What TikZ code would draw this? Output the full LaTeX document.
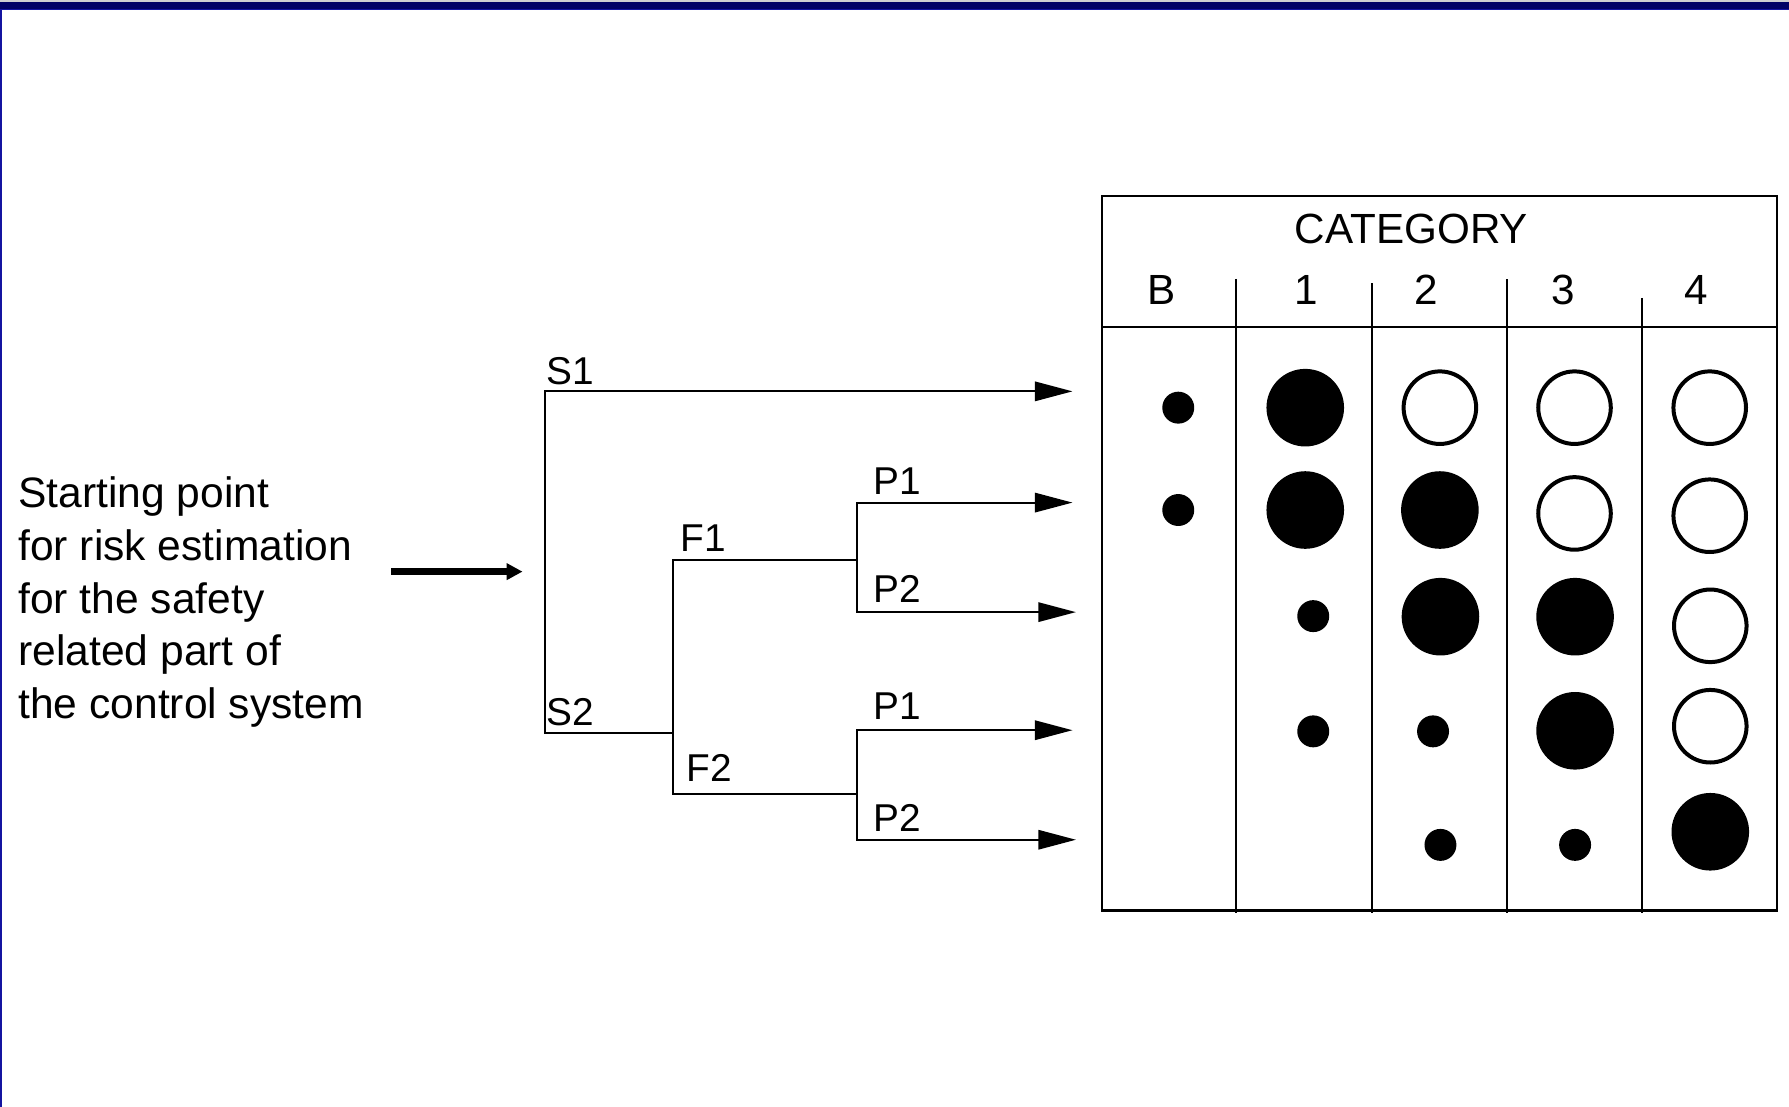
\documentclass[tikz,border=0pt]{standalone}
\usepackage{fontspec}
\setmainfont{Liberation Sans}
\usetikzlibrary{arrows.meta}

\definecolor{framenavy}{RGB}{0,0,102}
\definecolor{frameblue}{RGB}{20,20,160}
\definecolor{framegray}{RGB}{205,205,210}

\tikzset{
  branch/.style={line width=1.8pt, line cap=rect},
  toarrow/.style={branch, -{Triangle[length=33pt,width=17pt]}},
  startarrow/.style={line width=5.5pt, -{Triangle[length=14pt,width=14pt]}},
  lefttext/.style={anchor=base west, inner sep=0pt, font=\fontsize{37.3}{44}\selectfont},
  branchlabel/.style={anchor=base west, inner sep=0pt, font=\fontsize{34}{40}\selectfont},
  headlabel/.style={anchor=base, inner sep=0pt, font=\fontsize{37}{44}\selectfont},
  gridline/.style={line width=2pt},
  bigdot/.style={circle, fill=black, inner sep=0pt, minimum size=68pt},
  opendot/.style={circle, draw=black, line width=3.5pt, fill=white, inner sep=0pt, minimum size=63.6pt},
  smalldot/.style={circle, fill=black, inner sep=0pt, minimum size=28pt},
}

\begin{document}
\begin{tikzpicture}[x=1pt, y=-1pt]
  \useasboundingbox (0,0) rectangle (1568,970);
  \fill[white] (0,0) rectangle (1568,970);

  % slide frame: header band and left edge
  \fill[framegray] (0,0) rectangle (1568,1.6);
  \fill[framenavy] (0,1.6) rectangle (1568,7.9);
  \draw[frameblue, line width=0.8pt] (0,7.9) -- (1568,7.9);
  \fill[frameblue] (0,7.9) rectangle (1.6,970);

  % starting point text
  \node[lefttext] (t1) at (16,445)   {Starting point};
  \node[lefttext] (t2) at (16,491.2) {for risk estimation};
  \node[lefttext] (t3) at (16,537.4) {for the safety};
  \node[lefttext] (t4) at (16,583.6) {related part of};
  \node[lefttext] (t5) at (16,629.8) {the control system};

  % risk graph junctions
  \coordinate (in)   at (343,501);
  \coordinate (sMid) at (458,501);
  \coordinate (s1)   at (478,343);
  \coordinate (s2)   at (478,642.5);
  \coordinate (fJ)   at (589.5,642.5);
  \coordinate (f1)   at (589.5,491);
  \coordinate (f2)   at (589.5,695.5);
  \coordinate (pA)   at (751.5,491);
  \coordinate (pA1)  at (751.5,440.5);
  \coordinate (pA2)  at (751.5,536.5);
  \coordinate (pB)   at (751.5,695.5);
  \coordinate (pB1)  at (751.5,640);
  \coordinate (pB2)  at (751.5,736);

  % arrow tips pointing into the table rows
  \coordinate (r1) at (940,343);
  \coordinate (r2) at (940,440.5);
  \coordinate (r3) at (943,536.5);
  \coordinate (r4) at (940,640);
  \coordinate (r5) at (943,736);

  \draw[startarrow] (in) -- (sMid);

  \draw[branch] (s1) -- (s2) -- (fJ);
  \draw[toarrow] (s1) -- (r1);
  \draw[branch] (f1) -- (f2);
  \draw[branch] (f1) -- (pA);
  \draw[branch] (f2) -- (pB);
  \draw[branch] (pA1) -- (pA2);
  \draw[branch] (pB1) -- (pB2);
  \draw[toarrow] (pA1) -- (r2);
  \draw[toarrow] (pA2) -- (r3);
  \draw[toarrow] (pB1) -- (r4);
  \draw[toarrow] (pB2) -- (r5);

  % branch labels
  \node[branchlabel] (lS1)  at (478.5,337)  {S1};
  \node[branchlabel] (lS2)  at (478.5,636)  {S2};
  \node[branchlabel] (lF1)  at (596.5,483)  {F1};
  \node[branchlabel] (lF2)  at (601.5,685)  {F2};
  \node[branchlabel] (lP1a) at (765.5,433)  {P1};
  \node[branchlabel] (lP2a) at (765.5,528)  {P2};
  \node[branchlabel] (lP1b) at (765.5,631)  {P1};
  \node[branchlabel] (lP2b) at (765.5,729)  {P2};

  % category table
  \draw[gridline] (966,172) rectangle (1557.5,798);
  \draw[gridline] (966,286.5) -- (1557.5,286.5);
  \draw[gridline] (1083.5,244.5) -- (1083.5,800);
  \draw[gridline] (1202.5,248.3) -- (1202.5,800);
  \draw[gridline] (1321,244.8) -- (1321,800);
  \draw[gridline] (1439,261) -- (1439,800);

  \node[headlabel] (hCat) at (1237,213.3) {CATEGORY};
  \node[headlabel] (hB) at (1018,267) {B};
  \node[headlabel] (h1) at (1145,267) {1};
  \node[headlabel] (h2) at (1250,267) {2};
  \node[headlabel] (h3) at (1370,267) {3};
  \node[headlabel] (h4) at (1487,267) {4};

  % row 1
  \node[smalldot] (b1)  at (1032.7,357.3) {};
  \node[bigdot]   (c11) at (1144,357.3) {};
  \node[opendot]  (c21) at (1262,357.3) {};
  \node[opendot]  (c31) at (1380,357.3) {};
  \node[opendot]  (c41) at (1498.5,357.3) {};
  % row 2
  \node[smalldot] (b2)  at (1032.7,447) {};
  \node[bigdot]   (c12) at (1144,447) {};
  \node[bigdot]   (c22) at (1262,447) {};
  \node[opendot]  (c32) at (1380,450) {};
  \node[opendot]  (c42) at (1498.5,452) {};
  % row 3
  \node[smalldot] (c13) at (1151,540) {};
  \node[bigdot]   (c23) at (1262.5,540.5) {};
  \node[bigdot]   (c33) at (1380.5,540.5) {};
  \node[opendot]  (c43) at (1499,548.5) {};
  % row 4
  \node[smalldot] (c14) at (1151,641) {};
  \node[smalldot] (c24) at (1256,641) {};
  \node[bigdot]   (c34) at (1380.5,640.5) {};
  \node[opendot]  (c44) at (1499,636.5) {};
  % row 5
  \node[smalldot] (c25) at (1262.5,740.5) {};
  \node[smalldot] (c35) at (1380.5,740.5) {};
  \node[bigdot]   (c45) at (1499,729) {};
\end{tikzpicture}
\end{document}
